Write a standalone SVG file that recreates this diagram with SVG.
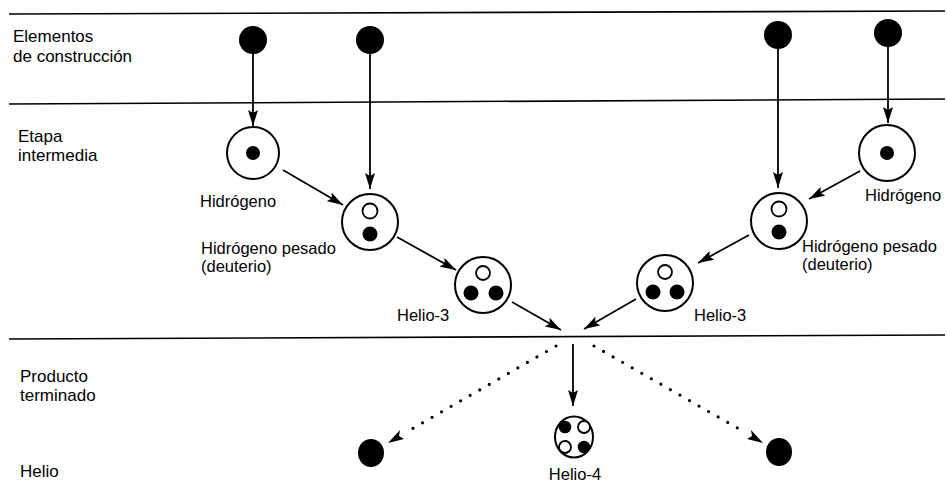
<svg xmlns="http://www.w3.org/2000/svg" width="947" height="486" viewBox="0 0 947 486">
<style>
text{font-family:"Liberation Sans",Arial,sans-serif;font-size:17px;fill:#000}
.nl{font-size:16.5px}
.rule{stroke:#000;stroke-width:1.6}
.arr{stroke:#000;stroke-width:1.8;fill:none;marker-end:url(#ah)}
.dot{stroke:#000;stroke-width:3.2;stroke-dasharray:0 11;stroke-linecap:round;fill:none}
.ring{fill:#fff;stroke:#000;stroke-width:2}
.open{fill:#fff;stroke:#000;stroke-width:1.8}
.full{fill:#000}
</style>
<defs>
<marker id="ah" viewBox="0 0 16 10" refX="16" refY="5" markerWidth="16" markerHeight="10" markerUnits="userSpaceOnUse" orient="auto">
<path d="M0,0 L16,5 L0,10 L3,5 Z" fill="#000"/>
</marker>
</defs>
<rect width="947" height="486" fill="#fff"/>
<g id="rules">
<line class="rule" x1="9" y1="14" x2="945" y2="11"/>
<line class="rule" x1="9" y1="104" x2="945" y2="99"/>
<line class="rule" x1="9" y1="339" x2="945" y2="335"/>
</g>
<g id="row-labels">
<text x="13" y="42">Elementos</text>
<text x="13" y="62">de construcción</text>
<text x="18" y="142">Etapa</text>
<text x="18" y="161">intermedia</text>
<text x="20" y="382">Producto</text>
<text x="20" y="401">terminado</text>
<text x="20" y="477">Helio</text>
</g>
<g id="connectors">
<line class="arr" x1="253" y1="54" x2="253" y2="126"/>
<line class="arr" x1="370" y1="54" x2="370" y2="189"/>
<line class="arr" x1="778" y1="49" x2="778" y2="188"/>
<line class="arr" x1="888" y1="47" x2="888" y2="123"/>
<line class="arr" x1="283" y1="170" x2="343" y2="205"/>
<line class="arr" x1="397" y1="237" x2="456" y2="270"/>
<line class="arr" x1="512" y1="302" x2="561" y2="330"/>
<line class="arr" x1="860" y1="171" x2="809" y2="199"/>
<line class="arr" x1="749" y1="235" x2="698" y2="263"/>
<line class="arr" x1="636" y1="299" x2="584" y2="329"/>
<line class="arr" x1="573" y1="344" x2="573" y2="406"/>
<line class="dot" x1="556" y1="346" x2="410" y2="430"/>
<path d="M388,443 L400,430 L399,436 L404,439 Z" fill="#000"/>
<line class="dot" x1="594" y1="346" x2="741" y2="430"/>
<path d="M763,443 L751,430 L752,436 L747,439 Z" fill="#000"/>
</g>
<g id="building-1"><circle class="full" cx="253" cy="40" r="14"/></g>
<g id="building-2"><circle class="full" cx="370" cy="40" r="14"/></g>
<g id="building-3"><circle class="full" cx="778" cy="35" r="14"/></g>
<g id="building-4"><circle class="full" cx="888" cy="33" r="14"/></g>
<g id="hydrogen-left">
<circle class="ring" cx="253" cy="153" r="26"/>
<circle class="full" cx="253" cy="153" r="7"/>
<text class="nl" x="200" y="207">Hidrógeno</text>
</g>
<g id="deuterium-left">
<circle class="ring" cx="370" cy="222" r="28"/>
<circle class="open" cx="370" cy="211" r="7.5"/>
<circle class="full" cx="370" cy="234" r="7.5"/>
<text class="nl" x="201" y="254">Hidrógeno pesado</text>
<text class="nl" x="201" y="272">(deuterio)</text>
</g>
<g id="helium3-left">
<circle class="ring" cx="483" cy="285" r="28"/>
<circle class="open" cx="483" cy="273" r="7"/>
<circle class="full" cx="471" cy="293" r="7.5"/>
<circle class="full" cx="496" cy="293" r="7.5"/>
<text class="nl" x="397" y="321">Helio-3</text>
</g>
<g id="hydrogen-right">
<circle class="ring" cx="887" cy="153" r="28"/>
<circle class="full" cx="887" cy="153" r="7"/>
<text class="nl" x="865" y="201">Hidrógeno</text>
</g>
<g id="deuterium-right">
<circle class="ring" cx="779" cy="221" r="28"/>
<circle class="open" cx="779" cy="209" r="7.5"/>
<circle class="full" cx="779" cy="232" r="7.5"/>
<text class="nl" x="802" y="252">Hidrógeno pesado</text>
<text class="nl" x="802" y="270">(deuterio)</text>
</g>
<g id="helium3-right">
<circle class="ring" cx="665" cy="283" r="28"/>
<circle class="open" cx="665" cy="272" r="7"/>
<circle class="full" cx="653" cy="292" r="7.5"/>
<circle class="full" cx="677" cy="292" r="7.5"/>
<text class="nl" x="694" y="321">Helio-3</text>
</g>
<g id="helium4">
<ellipse class="ring" cx="574" cy="437" rx="19" ry="20.5"/>
<circle class="full" cx="565" cy="427" r="6.3"/>
<circle class="open" cx="584" cy="427" r="6"/>
<circle class="open" cx="565" cy="447" r="6"/>
<circle class="full" cx="584" cy="447" r="6.3"/>
<text class="nl" x="575" y="480" text-anchor="middle">Helio-4</text>
</g>
<g id="helium-left"><ellipse class="full" cx="371" cy="453" rx="13" ry="14"/></g>
<g id="helium-right"><ellipse class="full" cx="779" cy="452" rx="13" ry="14"/></g>
</svg>
